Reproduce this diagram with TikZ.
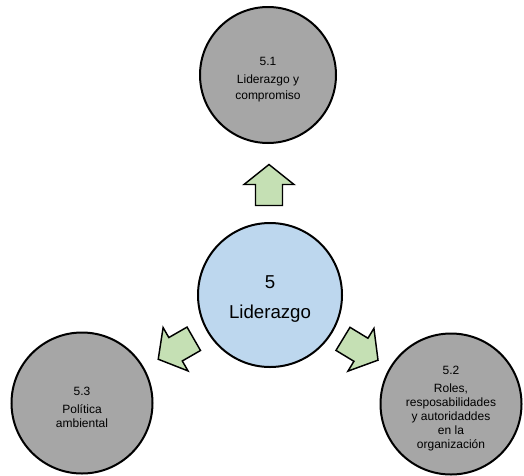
\documentclass[tikz,border=0pt]{standalone}
\usepackage{fontspec}
\setmainfont{Liberation Sans}
\usetikzlibrary{calc}
\definecolor{topicgray}{HTML}{A6A6A6}
\definecolor{corefill}{HTML}{BDD7EE}
\definecolor{arrowfill}{HTML}{C5E0B4}
\newlength{\pxu}
\setlength{\pxu}{0.75pt}
\tikzset{
  disc/.style={circle, draw=black, line width=1.5pt, inner sep=0pt},
  topic/.style={disc, fill=topicgray, minimum size=141\pxu},
  core/.style={disc, fill=corefill, minimum size=144\pxu},
  topictext/.style={align=center, yshift=-3.5pt,
    font=\fontsize{9}{10.5}\selectfont},
  coretext/.style={align=center, yshift=-3pt,
    font=\fontsize{14}{17}\selectfont},
  blockarrow/.style={draw=black, line width=1.1pt, fill=arrowfill, line join=miter}
}
\begin{document}
\begin{tikzpicture}[x=0.75pt,y=-0.75pt]
  \useasboundingbox (0,0) rectangle (524,475);

  % circles
  \node[core, label={[coretext]center:{5\\[5pt]Liderazgo}}] (lead) at (270,295) {};
  \node[topic, minimum size=136\pxu,
        label={[topictext]center:{5.1\\[3pt]Liderazgo y\\[1pt]compromiso}}] (comp) at (268,75) {};
  \node[topic, label={[topictext]center:{5.3\\[3pt]Política\\ambiental}}] (pol) at (82,403) {};
  \node[topic, label={[topictext]center:{5.2\\[3pt]Roles,\\resposabilidades\\y autoridaddes\\en la\\organización}}] (rol) at (451,404) {};

  % block arrows halfway between the core and each topic
  \coordinate (mComp) at ($(lead)!0.5!(comp)$);
  \coordinate (mPol)  at ($(lead)!0.5!(pol)$);
  \coordinate (mRol)  at ($(lead)!0.5!(rol)$);
  \foreach \m/\a in {mComp/90, mPol/209.9, mRol/-31.3}{
    \draw[blockarrow, shift={(\m)}, rotate=\a]
      (-20.5,-13.5) -- (0.5,-13.5) -- (0.5,-25) -- (20.5,0)
      -- (0.5,25) -- (0.5,13.5) -- (-20.5,13.5) -- cycle;
  }
\end{tikzpicture}
\end{document}
